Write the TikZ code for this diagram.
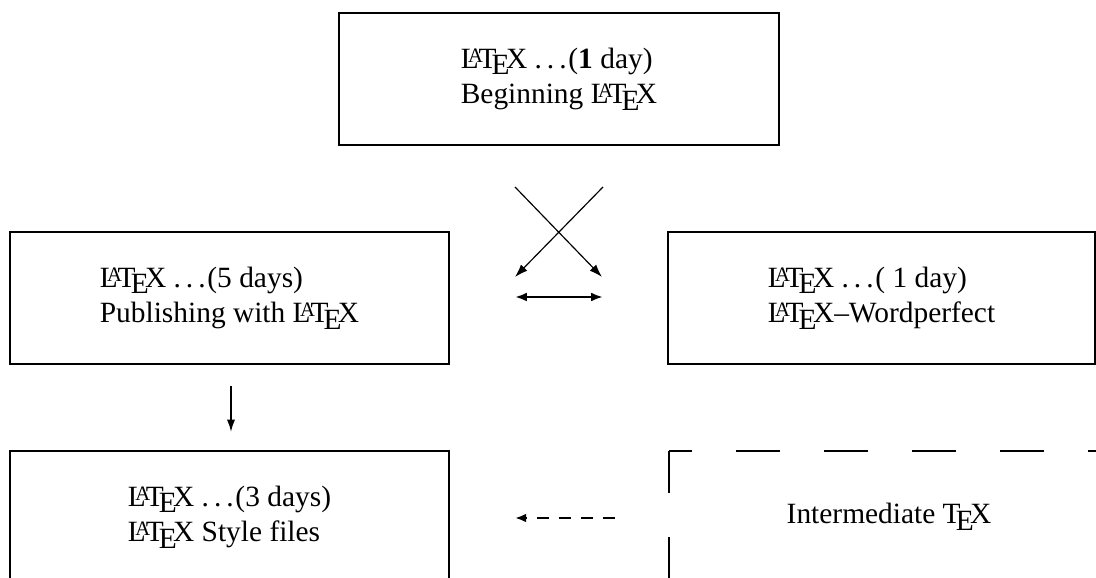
\documentclass[tikz,border=0pt]{standalone}
\usepackage{fontspec}
\setmainfont{Liberation Serif}
\usetikzlibrary{arrows.meta}
\newcommand\spdots{.\kern0.17em.\kern0.17em.\kern0.06em}
\begin{document}
\begin{tikzpicture}[x=0.34pt,y=-0.34pt,
  box/.style={draw, line width=0.8pt, align=left, inner sep=0pt,
    minimum width=149.6pt, minimum height=44.7pt, font=\fontsize{10}{12}\selectfont},
  thinarrow/.style={line width=0.4pt, -{Latex[length=4.4pt,width=3pt]}},
  thickarrow/.style={line width=0.8pt, {Latex[length=4pt,width=3pt]}-{Latex[length=4pt,width=3pt]}},
  downarrow/.style={line width=0.6pt, -{Latex[length=4.2pt,width=2.8pt]}},
  dasharrow/.style={line width=0.8pt, dash pattern=on 4.1pt off 3.4pt, -{Latex[length=3.8pt,width=3pt]}},
  bigdash/.style={line width=0.8pt, dash pattern=on 14.96pt off 14.96pt}]
\useasboundingbox (0,0) rectangle (1096,578);
\clip (0,0) rectangle (1096,578);
\node[box] (begin) at (559,79) {\LaTeX\ \spdots(\textbf{1} day)\\Beginning \LaTeX};
\node[box, minimum width=149.3pt] (publish) at (229.5,298) {\LaTeX\ \spdots(5 days)\\Publishing with \LaTeX};
\node[box, minimum width=145.2pt] (wp) at (881.5,298) {\LaTeX\ \spdots( 1 day)\\\LaTeX--Wordperfect};
\node[box, minimum width=149.3pt] (style) at (229.5,517) {\LaTeX\ \spdots(3 days)\\\LaTeX\ Style files};
\node[box, draw=none, outer sep=0pt] (inter) at (889,517) {Intermediate \TeX};
\draw[bigdash, dash phase=7.14pt] (inter.north west) -- (inter.north east);
\draw[bigdash, dash phase=0.68pt] (inter.north west) -- (inter.south west);
\draw[bigdash] (inter.south west) -- (inter.south east);
\draw[bigdash] (inter.north east) -- (inter.south east);
\coordinate (xa1) at (515,187);
\coordinate (xa2) at (602,277);
\coordinate (xb1) at (603,187);
\coordinate (xb2) at (515,277);
\coordinate (ha) at (515,297);
\coordinate (hb) at (603,297);
\coordinate (va) at (231,386);
\coordinate (vb) at (231,432);
\coordinate (da) at (615,518);
\coordinate (db) at (515,518);
\draw[thinarrow] (xa1) -- (xa2);
\draw[thinarrow] (xb1) -- (xb2);
\draw[thickarrow] (ha) -- (hb);
\draw[downarrow] (va) -- (vb);
\draw[dasharrow] (da) -- (db);
\end{tikzpicture}
\end{document}
